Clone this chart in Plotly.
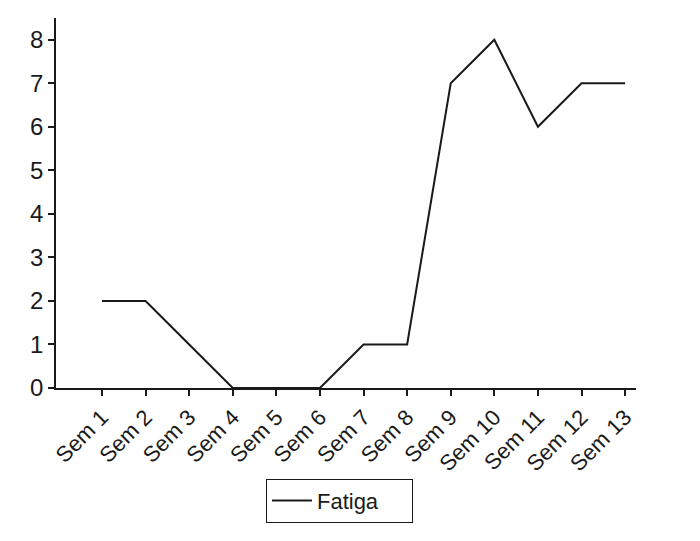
import plotly.graph_objects as go

categories = ["Sem 1", "Sem 2", "Sem 3", "Sem 4", "Sem 5", "Sem 6", "Sem 7",
              "Sem 8", "Sem 9", "Sem 10", "Sem 11", "Sem 12", "Sem 13"]
fatiga = [2, 2, 1, 0, 0, 0, 1, 1, 7, 8, 6, 7, 7]
y_ticks = [0, 1, 2, 3, 4, 5, 6, 7, 8]

fig = go.Figure()
fig.add_trace(go.Scatter(x=categories, y=fatiga, mode="lines", name="Fatiga",
                         line=dict(color="#1a1a1a", width=2)))

font = "Liberation Sans, Arial, sans-serif"
fig.update_layout(
    width=700, height=541,
    margin=dict(l=48, r=72, t=10, b=161),
    paper_bgcolor="white", plot_bgcolor="white",
    font=dict(family=font, color="#1a1a1a"),
    showlegend=True,
    legend=dict(x=0.362, y=-0.245, xanchor="left", yanchor="top",
                orientation="h", entrywidth=90, itemwidth=40,
                bordercolor="#1a1a1a", borderwidth=1, font=dict(size=22),
                bgcolor="white"),
    xaxis=dict(type="category", range=[-1.055, 12.25], showgrid=False,
               showline=True, linecolor="#1a1a1a", linewidth=1.5,
               ticks="outside", ticklen=6, tickcolor="#1a1a1a", tickwidth=1.5,
               tickangle=-45, tickfont=dict(size=22), zeroline=False,
               automargin=False),
    yaxis=dict(range=[0, 8.5], tickvals=y_ticks, showgrid=False,
               showline=True, linecolor="#1a1a1a", linewidth=1.5,
               ticks="outside", ticklen=6, tickcolor="#1a1a1a", tickwidth=1.5,
               tickfont=dict(size=24), zeroline=False, automargin=False),
)
fig.write_html("out.html")
